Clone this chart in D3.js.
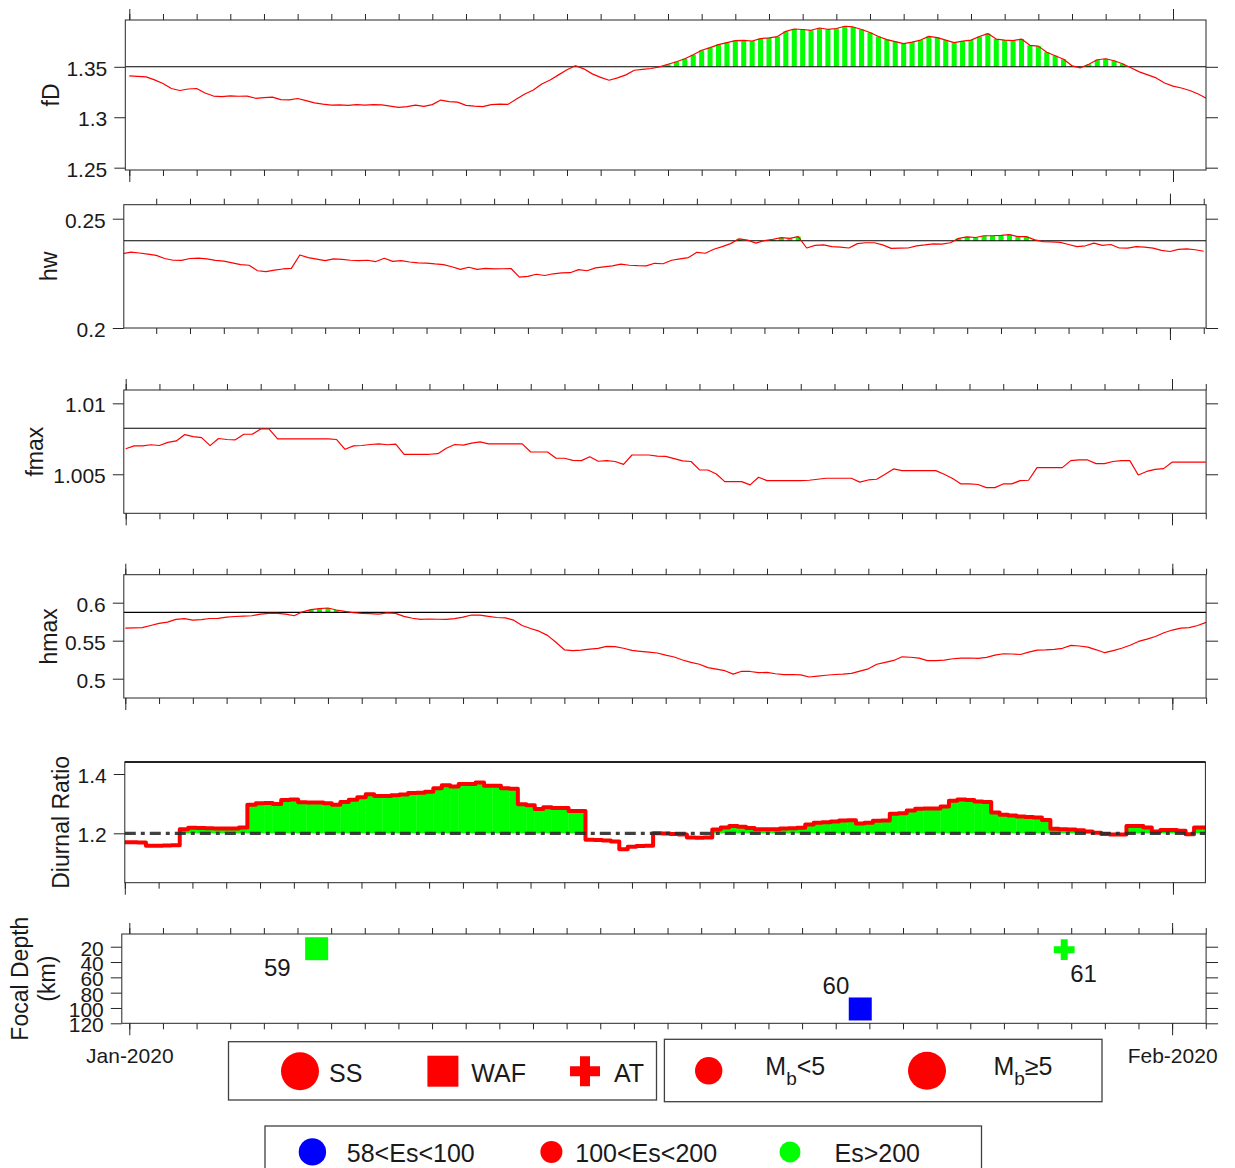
<!DOCTYPE html>
<html>
<head>
<meta charset="utf-8">
<script src="https://cdn.jsdelivr.net/npm/d3@7/dist/d3.min.js"></script>
<style>
  body { margin: 0; background: #fff; }
  text { font-family: "Liberation Sans", Arial, sans-serif; fill: #1a1a1a; }
</style>
</head>
<body>
<svg id="chart" width="1235" height="1168"></svg>
<script>
// 6-hourly samples, 2020-01-01 00:00 UTC .. 2020-02-02 00:00 UTC
var startTime = Date.UTC(2020, 0, 1);
var stepHours = 6;

var fD = [
  1.3410,1.3405,1.3400,1.3370, 1.3335,1.3285,1.3265,1.3280, 1.3285,1.3240,1.3210,1.3205, 1.3212,1.3208,1.3210,1.3188,
  1.3195,1.3200,1.3175,1.3172, 1.3186,1.3165,1.3142,1.3130, 1.3120,1.3122,1.3118,1.3125, 1.3120,1.3126,1.3122,1.3110,
  1.3097,1.3105,1.3120,1.3108, 1.3125,1.3170,1.3155,1.3150, 1.3118,1.3110,1.3105,1.3125, 1.3130,1.3128,1.3180,1.3230,
  1.3270,1.3330,1.3370,1.3420, 1.3470,1.3510,1.3480,1.3430, 1.3395,1.3367,1.3390,1.3420, 1.3466,1.3475,1.3483,1.3500,
  1.3525,1.3550,1.3580,1.3620, 1.3664,1.3690,1.3720,1.3740, 1.3760,1.3762,1.3756,1.3780, 1.3786,1.3800,1.3852,1.3875,
  1.3870,1.3862,1.3885,1.3872, 1.3880,1.3902,1.3895,1.3870, 1.3840,1.3800,1.3770,1.3750, 1.3730,1.3745,1.3765,1.3802,
  1.3790,1.3765,1.3740,1.3755, 1.3765,1.3800,1.3829,1.3775, 1.3765,1.3760,1.3775,1.3713, 1.3705,1.3645,1.3610,1.3575,
  1.3510,1.3490,1.3525,1.3570, 1.3580,1.3560,1.3530,1.3490, 1.3450,1.3420,1.3390,1.3340, 1.3308,1.3290,1.3265,1.3230,
  1.3186
];
var hw = [
  .2340,.2347,.2343,.2338, .2332,.2318,.2310,.2309, .2318,.2320,.2316,.2309, .2306,.2298,.2290,.2287,
  .2262,.2258,.2265,.2270, .2273,.2334,.2322,.2315, .2308,.2316,.2314,.2310, .2308,.2310,.2304,.2319,
  .2305,.2308,.2302,.2298, .2297,.2293,.2290,.2280, .2268,.2278,.2268,.2273, .2270,.2271,.2272,.2233,
  .2236,.2246,.2240,.2248, .2252,.2253,.2267,.2262, .2275,.2280,.2284,.2292, .2287,.2285,.2284,.2296,
  .2294,.2310,.2316,.2322, .2346,.2342,.2360,.2372, .2386,.2408,.2402,.2388, .2400,.2406,.2413,.2410,
  .2418,.2366,.2378,.2380, .2372,.2370,.2366,.2386, .2390,.2390,.2380,.2364, .2365,.2366,.2376,.2380,
  .2385,.2384,.2390,.2410, .2417,.2414,.2422,.2422, .2424,.2427,.2418,.2418, .2403,.2395,.2394,.2392,
  .2382,.2372,.2376,.2388, .2378,.2382,.2366,.2365, .2372,.2370,.2365,.2355, .2350,.2360,.2362,.2358,
  .2351
];
var fmax = [
  1.00680,1.00700,1.00700,1.00708, 1.00703,1.00725,1.00735,1.00780, 1.00765,1.00758,1.00702,1.00752, 1.00745,1.00743,1.00782,1.00782,
  1.00819,1.00819,1.00749,1.00749, 1.00749,1.00749,1.00749,1.00749, 1.00749,1.00745,1.00676,1.00700, 1.00703,1.00710,1.00714,1.00708,
  1.00712,1.00641,1.00641,1.00641, 1.00641,1.00645,1.00683,1.00710, 1.00706,1.00720,1.00728,1.00714, 1.00714,1.00714,1.00714,1.00714,
  1.00657,1.00657,1.00657,1.00613, 1.00613,1.00598,1.00596,1.00624, 1.00592,1.00596,1.00590,1.00570, 1.00636,1.00636,1.00636,1.00628,
  1.00626,1.00610,1.00594,1.00590, 1.00531,1.00530,1.00502,1.00448, 1.00448,1.00448,1.00425,1.00479, 1.00455,1.00455,1.00455,1.00455,
  1.00455,1.00458,1.00465,1.00472, 1.00472,1.00472,1.00472,1.00445, 1.00460,1.00465,1.00500,1.00538, 1.00526,1.00526,1.00526,1.00526,
  1.00526,1.00500,1.00470,1.00432, 1.00432,1.00428,1.00406,1.00406, 1.00432,1.00432,1.00455,1.00458, 1.00547,1.00547,1.00547,1.00547,
  1.00596,1.00601,1.00601,1.00575, 1.00575,1.00590,1.00596,1.00596, 1.00495,1.00520,1.00535,1.00540, 1.00585,1.00585,1.00585,1.00585,
  1.00585
];
var hmax = [
  .5665,.5668,.5672,.5700, .5728,.5745,.5780,.5790, .5770,.5778,.5792,.5794, .5810,.5818,.5822,.5828,
  .5850,.5860,.5858,.5850, .5828,.5880,.5908,.5922, .5930,.5904,.5885,.5868, .5860,.5855,.5850,.5866,
  .5860,.5820,.5795,.5781, .5785,.5782,.5781,.5790, .5810,.5838,.5835,.5820, .5805,.5800,.5770,.5700,
  .5660,.5625,.5570,.5480, .5380,.5368,.5375,.5388, .5398,.5425,.5421,.5400, .5372,.5360,.5350,.5338,
  .5310,.5285,.5246,.5215, .5190,.5145,.5125,.5105, .5060,.5098,.5095,.5080, .5082,.5065,.5053,.5055,
  .5050,.5022,.5035,.5045, .5055,.5061,.5070,.5100, .5130,.5190,.5215,.5240, .5288,.5282,.5270,.5237,
  .5238,.5245,.5262,.5270, .5272,.5268,.5280,.5310, .5328,.5325,.5318,.5350, .5376,.5378,.5385,.5400,
  .5438,.5430,.5415,.5380, .5342,.5370,.5400,.5440, .5490,.5520,.5555,.5605, .5640,.5665,.5672,.5700,
  .5741
];
var diurnal = [
  1.170,1.170,1.169,1.158, 1.158,1.159,1.160,1.214, 1.219,1.218,1.217,1.216, 1.216,1.216,1.220,1.296,
  1.301,1.302,1.299,1.312, 1.314,1.305,1.304,1.304, 1.301,1.296,1.306,1.313, 1.322,1.332,1.326,1.326,
  1.328,1.331,1.336,1.337, 1.340,1.352,1.362,1.358, 1.366,1.366,1.371,1.360, 1.360,1.352,1.350,1.298,
  1.295,1.282,1.288,1.285, 1.285,1.275,1.275,1.178, 1.177,1.176,1.172,1.146, 1.155,1.157,1.158,1.200,
  1.199,1.198,1.196,1.186, 1.185,1.186,1.213,1.220, 1.225,1.222,1.218,1.214, 1.214,1.214,1.216,1.217,
  1.219,1.230,1.236,1.237, 1.240,1.243,1.244,1.233, 1.236,1.242,1.243,1.266, 1.268,1.277,1.283,1.284,
  1.284,1.290,1.310,1.314, 1.312,1.307,1.306,1.270, 1.263,1.260,1.257,1.255, 1.253,1.245,1.215,1.214,
  1.213,1.210,1.206,1.202, 1.198,1.196,1.196,1.225, 1.225,1.220,1.206,1.211, 1.211,1.209,1.197,1.220,
  1.220
];

// thresholds
var fDThr = 1.35, hwThr = 0.2399, fmaxThr = 1.00824, hmaxThr = 0.5873, diurnalThr = 1.2;

// tick labels
var fDTicks = [1.25, 1.3, 1.35];
var hwTicks = [0.2, 0.25];
var fmaxTicks = [1.005, 1.01];
var hmaxTicks = [0.5, 0.55, 0.6];
var diurnalTicks = [1.2, 1.4];
var depthTicks = [20, 40, 60, 80, 100, 120];

// earthquakes
var quakeIds = ["59", "60", "61"];
var quakeTimes = ["2020-01-06 13:40", "2020-01-22 17:30", "2020-01-28 19:00"];
var quakeDepths = [22.6, 101.3, 23.9];
var quakeTypes = ["WAF", "WAF", "AT"];
var quakeEs = ["Es>200", "58<Es<100", "Es>200"];

// legends
var typeNames = ["SS", "WAF", "AT"];
var energyNames = ["58<Es<100", "100<Es<200", "Es>200"];
var energyColors = ["#0000ff", "#ff0000", "#00ff00"];

var svg = d3.select("#chart");
var times = fD.map(function(d, i) { return new Date(startTime + i * stepHours * 36e5); });
function dayDate(t) { return new Date(startTime + t * 864e5); }

var panels = [
  { id: "fd", label: ["fD"], labelX: [59], values: fD, thr: fDThr, ticks: fDTicks, yDomain: [1.2477, 1.3964],
    left: 125.3, right: 1206, top: 20, bottom: 170, t0: -0.119, t1: 31.98 },
  { id: "hw", label: ["hw"], labelX: [57], values: hw, thr: hwThr, ticks: hwTicks, yDomain: [0.2, 0.2564],
    left: 123.8, right: 1206.1, top: 204.7, bottom: 328, t0: 0.041, t1: 32.07 },
  { id: "fmax", label: ["fmax"], labelX: [43], values: fmax, thr: fmaxThr, ticks: fmaxTicks, yDomain: [1.00225, 1.01094],
    left: 123.8, right: 1206.1, top: 390, bottom: 513.3, t0: -0.056, t1: 32.01 },
  { id: "hmax", label: ["hmax"], labelX: [57], values: hmax, thr: hmaxThr, ticks: hmaxTicks, yDomain: [0.4746, 0.6368],
    left: 123.8, right: 1206.1, top: 574.7, bottom: 698, t0: -0.044, t1: 32.0 },
  { id: "dr", label: ["Diurnal Ratio"], labelX: [68.5], values: diurnal, thr: diurnalThr, ticks: diurnalTicks, yDomain: [1.0334, 1.4405],
    left: 124.8, right: 1205.4, top: 762, bottom: 882.7, t0: 0, t1: 31.96, diurnal: true },
  { id: "depth", label: ["Focal Depth", "(km)"], labelX: [28, 55], ticks: depthTicks, yDomain: [120, 3.4],
    left: 121.8, right: 1206.1, top: 934, bottom: 1023.3, t0: -0.223, t1: 32.01 }
];

function cleanAxis(a) {
  a.select(".domain").remove();
  a.attr("color", "#262626").attr("font-size", 21);
  a.selectAll("line").attr("stroke-width", 1);
}

panels.forEach(function(p) {
  var x = d3.scaleUtc().domain([dayDate(p.t0), dayDate(p.t1)]).range([p.left, p.right]);
  var y = d3.scaleLinear().domain(p.yDomain).range([p.bottom, p.top]);
  p.x = x; p.y = y;
  var g = svg.append("g").attr("class", "panel-" + p.id);

  svg.append("clipPath").attr("id", "clip-" + p.id).append("rect")
    .attr("x", p.left).attr("y", p.top)
    .attr("width", p.right - p.left).attr("height", p.bottom - p.top);
  var plot = g.append("g").attr("clip-path", "url(#clip-" + p.id + ")");

  if (p.values) {
    var step = x(times[1]) - x(times[0]);
    var bw = p.diurnal ? step + 0.3 : step * 0.6;
    var series = p.values.map(function(v, i) { return { t: times[i], v: v }; });

    plot.selectAll("rect.bar")
      .data(series.filter(function(d) { return d.v > p.thr; }))
      .enter().append("rect").attr("class", "bar")
      .attr("x", function(d) { return x(d.t) - bw / 2; })
      .attr("width", bw)
      .attr("y", function(d) { return y(d.v); })
      .attr("height", function(d) { return y(p.thr) - y(d.v); })
      .attr("fill", "#00ff00");

    var line = d3.line()
      .x(function(d) { return x(d.t); })
      .y(function(d) { return y(d.v); })
      .curve(p.diurnal ? d3.curveStep : d3.curveLinear);

    if (!p.diurnal) {
      plot.append("line").attr("x1", p.left).attr("x2", p.right)
        .attr("y1", y(p.thr)).attr("y2", y(p.thr))
        .attr("stroke", "#000").attr("stroke-width", 1.1);
    }
    plot.append("path").datum(series)
      .attr("d", line).attr("fill", "none").attr("stroke", "#ff0000")
      .attr("stroke-width", p.diurnal ? 4 : 1.2)
      .attr("stroke-linejoin", "round");
    if (p.diurnal) {
      plot.append("line").attr("x1", p.left).attr("x2", p.right)
        .attr("y1", y(p.thr)).attr("y2", y(p.thr))
        .attr("stroke", "#2b2b2b").attr("stroke-opacity", 0.9)
        .attr("stroke-width", 3.2).attr("stroke-dasharray", "11,5,4,5");
    }
  }

  // frame
  g.append("rect").attr("x", p.left).attr("y", p.top)
    .attr("width", p.right - p.left).attr("height", p.bottom - p.top)
    .attr("fill", "none").attr("stroke", "#262626").attr("stroke-width", 1);
  if (p.diurnal) {
    g.append("line").attr("x1", p.left).attr("x2", p.right).attr("y1", p.top).attr("y2", p.top)
      .attr("stroke", "#222").attr("stroke-width", 1.8);
  }

  // x ticks: daily short, monthly long
  var dayTicks = x.ticks(d3.utcDay.every(1));
  var monthTicks = x.ticks(d3.utcMonth.every(1));
  var sides = p.diurnal ? ["bottom"] : ["top", "bottom"];
  sides.forEach(function(side) {
    var mk = side === "top" ? d3.axisTop : d3.axisBottom;
    var pos = side === "top" ? p.top : p.bottom;
    g.append("g").attr("transform", "translate(0," + pos + ")")
      .call(mk(x).tickValues(dayTicks).tickSize(6).tickFormat(""))
      .call(cleanAxis);
    var labelled = p.id === "depth" && side === "bottom";
    var ax = g.append("g").attr("transform", "translate(0," + pos + ")")
      .call(mk(x).tickValues(monthTicks).tickSize(side === "top" ? 11 : 12)
        .tickPadding(13).tickFormat(labelled ? d3.utcFormat("%b-%Y") : ""))
      .call(cleanAxis);
    if (labelled) ax.selectAll("text").attr("dy", "0.71em");
  });

  // y ticks
  g.append("g").attr("transform", "translate(" + p.left + ",0)")
    .call(d3.axisLeft(y).tickValues(p.ticks).tickSize(11).tickPadding(7)
      .tickFormat(function(d) { return String(d); }))
    .call(cleanAxis)
    .selectAll("text").attr("dy", "0.4em");
  if (!p.diurnal) {
    g.append("g").attr("transform", "translate(" + p.right + ",0)")
      .call(d3.axisRight(y).tickValues(p.ticks).tickSize(12).tickFormat(""))
      .call(cleanAxis);
  }

  // y label
  p.label.forEach(function(s, k) {
    g.append("text")
      .attr("transform", "translate(" + p.labelX[k] + "," + (p.top + p.bottom) / 2 + ") rotate(-90)")
      .attr("text-anchor", "middle").attr("font-size", 23).text(s);
  });
});

// earthquakes in the focal-depth panel
var dp = panels[5];
var parseT = d3.utcParse("%Y-%m-%d %H:%M");
var symFor = { SS: d3.symbolCircle, WAF: d3.symbolSquare, AT: d3.symbolCross };
var sizeFor = { SS: 415, WAF: 529, AT: 240 };
var labelOffsets = { "59": [-26, 27, "end"], "60": [-11, -15, "end"], "61": [6, 32, "start"] };
var quakes = quakeIds.map(function(id, i) {
  return { id: id, t: parseT(quakeTimes[i]), depth: quakeDepths[i], type: quakeTypes[i],
           color: energyColors[energyNames.indexOf(quakeEs[i])] };
});
var qg = svg.append("g");
qg.selectAll("path.quake").data(quakes).enter().append("path").attr("class", "quake")
  .attr("transform", function(d) { return "translate(" + dp.x(d.t) + "," + dp.y(d.depth) + ")"; })
  .attr("d", function(d) { return d3.symbol().type(symFor[d.type]).size(sizeFor[d.type])(); })
  .attr("fill", function(d) { return d.color; });
qg.selectAll("text.qlabel").data(quakes).enter().append("text").attr("class", "qlabel")
  .attr("x", function(d) { return dp.x(d.t) + labelOffsets[d.id][0]; })
  .attr("y", function(d) { return dp.y(d.depth) + labelOffsets[d.id][1]; })
  .attr("text-anchor", function(d) { return labelOffsets[d.id][2]; })
  .attr("font-size", 24).text(function(d) { return d.id; });

// legends
var lg = svg.append("g");
function box(x, y, w, h) {
  lg.append("rect").attr("x", x).attr("y", y).attr("width", w).attr("height", h)
    .attr("fill", "#fff").attr("stroke", "#404040").attr("stroke-width", 1.3);
}
box(228.5, 1041.7, 428, 58.3);
box(664.4, 1039.3, 437.6, 62.4);
box(265, 1126, 716.5, 70);

var typeX = [300, 442.9, 585], typeTextX = [329, 471.3, 614];
var typeSize = { SS: 1134, WAF: 961, AT: 500 };
typeNames.forEach(function(n, i) {
  lg.append("path").attr("transform", "translate(" + typeX[i] + ",1071.2)")
    .attr("d", d3.symbol().type(symFor[n]).size(typeSize[n])()).attr("fill", "#ff0000");
  lg.append("text").attr("x", typeTextX[i]).attr("y", 1081.7).attr("font-size", 25).text(n);
});

var magR = [13.7, 19], magX = [708.7, 927], magTextX = [765.3, 993.4], magRel = ["<5", "\u22655"];
magR.forEach(function(r, i) {
  lg.append("circle").attr("cx", magX[i]).attr("cy", 1070.7).attr("r", r).attr("fill", "#ff0000");
  var t = lg.append("text").attr("x", magTextX[i]).attr("y", 1075).attr("font-size", 25);
  t.append("tspan").text("M");
  t.append("tspan").attr("font-size", 19).attr("dy", 10).text("b");
  t.append("tspan").attr("dy", -10).text(magRel[i]);
});

var esR = [13.7, 11, 10.5], esX = [312.4, 551.4, 790], esTextX = [346.8, 575.3, 834.5];
energyNames.forEach(function(n, i) {
  lg.append("circle").attr("cx", esX[i]).attr("cy", 1151.9).attr("r", esR[i]).attr("fill", energyColors[i]);
  lg.append("text").attr("x", esTextX[i]).attr("y", 1161.7).attr("font-size", 25).text(n);
});
</script>
</body>
</html>
